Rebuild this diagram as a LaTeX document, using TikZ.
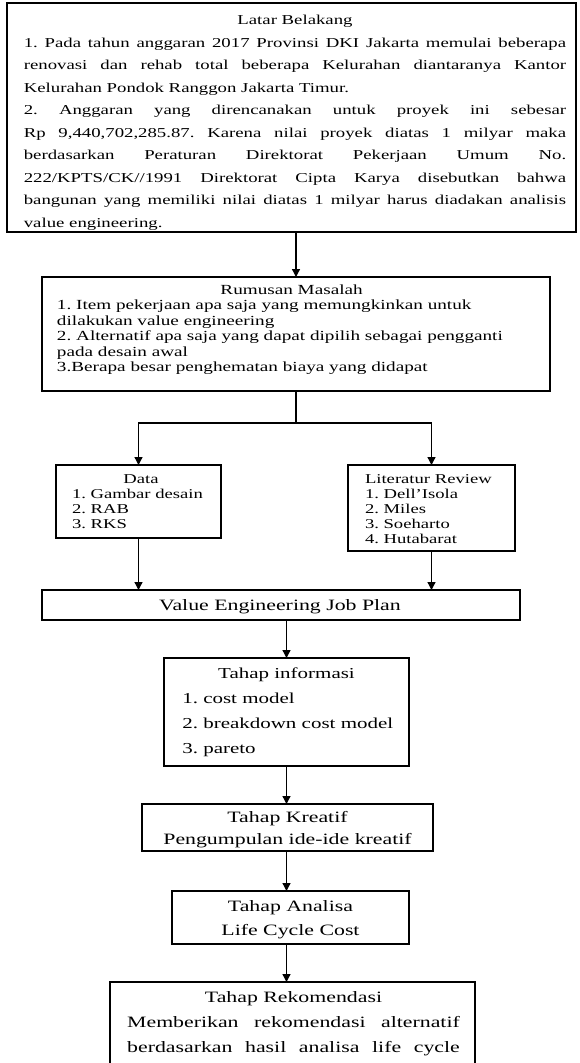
\documentclass[tikz,border=0pt]{standalone}
\usepackage{fontspec}
\setmainfont{Liberation Serif}
\usepackage{graphicx}
\usepackage{tikz}
\usetikzlibrary{arrows.meta}
\newcommand{\stretchfactor}{1.38}
\newcommand{\wide}[1]{\scalebox{\stretchfactor}[1]{#1}}
\hbadness=10000
\hfuzz=10pt
\frenchspacing
\tikzstyle{box}=[draw, line width=1.3pt, inner sep=0, outer sep=0]
\tikzstyle{txt}=[inner sep=0, outer sep=0, anchor=base]
\tikzstyle{flow}=[line width=1.3pt, -{Triangle[width=8pt,length=8pt]}]

\begin{document}
\begin{tikzpicture}[x=1pt, y=-1pt]
    \useasboundingbox (0,0) rectangle (579,1063);
    % boxes
    \node[box, minimum width=569pt, minimum height=229pt] (latar) at (291.5,117.5) {};
    \node[box, minimum width=508pt, minimum height=114pt] (rumusan) at (296,334) {};
    \node[box, minimum width=165pt, minimum height=73pt]  (data) at (138.5,501.5) {};
    \node[box, minimum width=167pt, minimum height=86pt]  (literatur) at (431.5,508) {};
    \node[box, minimum width=478pt, minimum height=30pt]  (ve) at (281,605) {};
    \node[box, minimum width=245pt, minimum height=108pt] (info) at (286.5,712) {};
    \node[box, minimum width=291pt, minimum height=47pt]  (kreatif) at (287.5,827.5) {};
    \node[box, minimum width=237pt, minimum height=53pt]  (analisa) at (290.5,917.5) {};
    \node[box, minimum width=365pt, minimum height=93pt]  (rekom) at (292.5,1028.5) {};
    % texts
    \node[txt] (latartxt) at (295,24.5) {\wide{\parbox[t]{393pt}{\fontsize{13.6}{22.5}\selectfont
        {\centering Latar Belakang\par}
        1. Pada tahun anggaran 2017 Provinsi DKI Jakarta memulai beberapa\linebreak
        renovasi dan rehab total beberapa Kelurahan diantaranya Kantor\linebreak
        Kelurahan Pondok Ranggon Jakarta Timur.\par
        2. Anggaran yang direncanakan untuk proyek ini sebesar\linebreak
        Rp 9,440,702,285.87. Karena nilai proyek diatas 1 milyar maka\linebreak
        berdasarkan Peraturan Direktorat Pekerjaan Umum No.\linebreak
        222/KPTS/CK//1991 Direktorat Cipta Karya disebutkan bahwa\linebreak
        bangunan yang memiliki nilai diatas 1 milyar harus diadakan analisis\linebreak
        value engineering.}}};
    \node[txt] (rumusantxt) at (291.6,294.5) {\wide{\parbox[t]{340pt}{\fontsize{13.9}{15.4}\selectfont
        {\centering Rumusan Masalah\par}
        1. Item pekerjaan apa saja yang memungkinkan untuk\\
        dilakukan value engineering\\
        2. Alternatif apa saja yang dapat dipilih sebagai pengganti\\
        pada desain awal\\
        3.Berapa besar penghematan biaya yang didapat}}};
    \node[txt] (datatxt) at (141,483.5) {\wide{\parbox[t]{100pt}{\fontsize{13.5}{15}\selectfont
        {\centering Data\par}
        1. Gambar desain\\
        2. RAB\\
        3. RKS}}};
    \node[txt, anchor=base west] (literaturtxt) at (365,483.5) {\wide{\parbox[t]{105pt}{\fontsize{13.5}{15}\selectfont
        Literatur Review\\
        1. Dell{\char"27}Isola\\
        2. Miles\\
        3. Soeharto\\
        4. Hutabarat}}};
    \node[txt] (vetxt) at (280,610.5) {\wide{\fontsize{15.8}{18}\selectfont Value Engineering Job Plan}};
    \node[txt] (infotxt) at (286.5,678) {\wide{\parbox[t]{151pt}{\fontsize{15.2}{25}\selectfont
        {\centering Tahap informasi\par}
        \mbox{1. cost model}\\
        \mbox{2. breakdown cost model}\\
        \mbox{3. pareto}}}};
    \node[txt] (kreatiftxt) at (287.5,822) {\wide{\parbox[t]{200pt}{\fontsize{15.8}{22}\selectfont\centering
        Tahap Kreatif\\
        Pengumpulan ide-ide kreatif}}};
    \node[txt] (analisatxt) at (290.5,911) {\wide{\parbox[t]{160pt}{\fontsize{15.8}{24}\selectfont\centering
        Tahap Analisa\\
        Life Cycle Cost}}};
    \node[txt] (rekomtxt) at (293.5,1002) {\wide{\parbox[t]{241pt}{\fontsize{15.8}{25}\selectfont
        {\centering Tahap Rekomendasi\par}
        {\parfillskip=0pt Memberikan rekomendasi alternatif\linebreak
        berdasarkan hasil analisa life cycle\par}}}};
    % connectors
    \coordinate (split) at ([yshift=-32pt]rumusan.south);
    \draw[flow] (rumusan.north |- latar.south) -- (rumusan.north);
    \draw[flow] (rumusan.south) -- (split) -| (data.north);
    \draw[flow] (split) -| (literatur.north);
    \draw[flow] (data.south) -- (data.south |- ve.north);
    \draw[flow] (literatur.south) -- (literatur.south |- ve.north);
    \draw[flow] (info.north |- ve.south) -- (info.north);
    \draw[flow] (info.south) -- (info.south |- kreatif.north);
    \draw[flow] (kreatif.south -| info.south) -- (info.south |- analisa.north);
    \draw[flow] (analisa.south -| info.south) -- (info.south |- rekom.north);
\end{tikzpicture}
\end{document}
